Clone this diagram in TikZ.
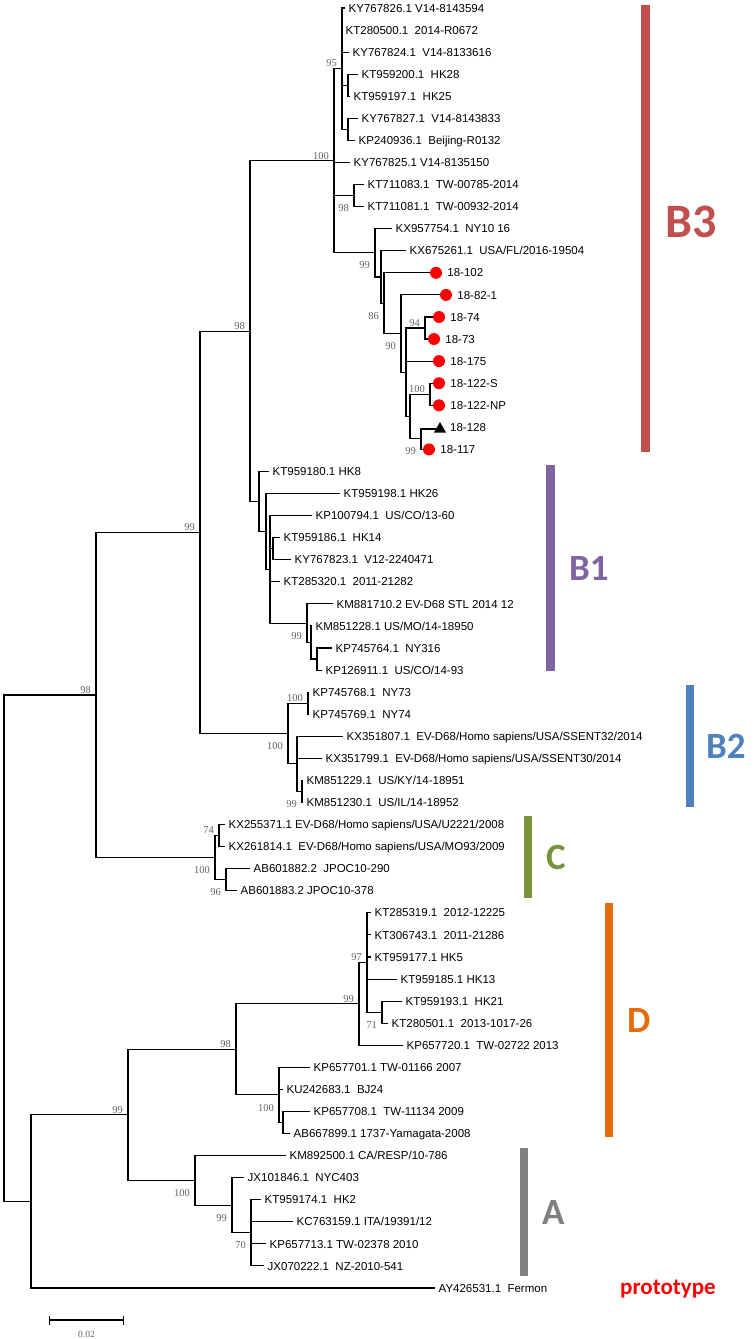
\documentclass[tikz,border=0pt]{standalone}
\usepackage{fontspec}
\setmainfont{Liberation Sans}
\newfontfamily\bootfont{Liberation Serif}
\newfontfamily\cladefont{Carlito}
\usetikzlibrary{positioning,shapes.geometric,arrows.meta}
\definecolor{colBthree}{HTML}{C0504D}
\definecolor{colBone}{HTML}{8064A2}
\definecolor{colBtwo}{HTML}{4F81BD}
\definecolor{colC}{HTML}{77933C}
\definecolor{colD}{HTML}{E46C0A}
\definecolor{colA}{HTML}{7F7F7F}

\begin{document}
\begin{tikzpicture}[x=1pt,y=-1pt,
  branch/.style={line width=1.1pt},
  leaf/.style={anchor=west,inner xsep=3.5pt,inner ysep=0pt,text height=8.2pt,text depth=0pt,font=\fontsize{11.5}{13}\selectfont},
  red dot/.style={circle,fill=red,inner sep=0pt,minimum size=12pt},
  black tri/.style={regular polygon,regular polygon sides=3,fill=black,inner sep=0pt,minimum size=14pt},
  boot/.style={inner sep=0pt,text=black!62,font=\bootfont\fontsize{10.5}{11}\selectfont},
  boot up/.style={boot,above left=1.5pt and 5pt of #1},
  boot down/.style={boot,below left=9pt and 5pt of #1},
  clade/.style={anchor=west,inner sep=0pt,font=\cladefont\bfseries\fontsize{37}{40}\selectfont}]
  \useasboundingbox (0,0) rectangle (754,1339);

  % inner nodes of the tree
  \coordinate (root) at (4,948);
  \coordinate (nIng) at (96,695);
  \coordinate (nB) at (200,532.4);
  \coordinate (nB13) at (250,331.2);
  \coordinate (nB3) at (334,160.8);
  \coordinate (n95) at (342,68.7);
  \coordinate (nHK) at (348,85.2);
  \coordinate (nBJ) at (348,129.4);
  \coordinate (nTW) at (354,195.6);
  \coordinate (n99i) at (375,252.8);
  \coordinate (nFL) at (381,277);
  \coordinate (n86) at (384,303.2);
  \coordinate (n90) at (401,333.5);
  \coordinate (nX) at (406,372.2);
  \coordinate (n94) at (425,328);
  \coordinate (nY) at (410,416.3);
  \coordinate (nS) at (430,394.2);
  \coordinate (nT) at (421,438.4);
  \coordinate (nB1) at (259,501.5);
  \coordinate (nB1b) at (266,531.5);
  \coordinate (nB1c) at (270,569.4);
  \coordinate (nHK14) at (273,548.7);
  \coordinate (nSTL) at (307,623.2);
  \coordinate (nMO) at (311,642.5);
  \coordinate (nCO) at (317,659);
  \coordinate (nB2) at (288,733.5);
  \coordinate (nNY) at (308,703.2);
  \coordinate (nSS) at (297,763.9);
  \coordinate (nKY) at (302,791.5);
  \coordinate (nC) at (215,857.7);
  \coordinate (n74) at (219,835.6);
  \coordinate (nJP) at (226,879.7);
  \coordinate (nLow) at (31,1201.5);
  \coordinate (nDA) at (128,1114.9);
  \coordinate (nD) at (236,1049.4);
  \coordinate (nD1) at (359,1003.9);
  \coordinate (n97) at (367,962.5);
  \coordinate (n71) at (382,1012.2);
  \coordinate (nD2) at (279,1094.9);
  \coordinate (nTWb) at (283,1122.5);
  \coordinate (nA) at (195,1180.4);
  \coordinate (nA1) at (232,1205.3);
  \coordinate (n70) at (251,1232.8);

  % leaves
  \node[leaf] (l1) at (345,8) {KY767826.1 V14-8143594};
  \node[leaf] (l2) at (342,30.1) {KT280500.1~~2014-R0672};
  \node[leaf] (l3) at (349,52.1) {KY767824.1~~V14-8133616};
  \node[leaf] (l4) at (358,74.2) {KT959200.1~~HK28};
  \node[leaf] (l5) at (350,96.3) {KT959197.1~~HK25};
  \node[leaf] (l6) at (358,118.4) {KY767827.1~~V14-8143833};
  \node[leaf] (l7) at (355,140.4) {KP240936.1~~Beijing-R0132};
  \node[leaf] (l8) at (350,162.5) {KY767825.1 V14-8135150};
  \node[leaf] (l9) at (364,184.6) {KT711083.1~~TW-00785-2014};
  \node[leaf] (l10) at (364,206.6) {KT711081.1~~TW-00932-2014};
  \node[leaf] (l11) at (392,228.7) {KX957754.1~~NY10 16};
  \node[leaf] (l12) at (406,250.8) {KX675261.1~~USA/FL/2016-19504};
  \node[red dot] (d13) at (436,272.8) {};
  \node[leaf,right=1.5pt of d13] (l13) {18-102};
  \node[red dot] (d14) at (446,294.9) {};
  \node[leaf,right=1.5pt of d14] (l14) {18-82-1};
  \node[red dot] (d15) at (439,317) {};
  \node[leaf,right=1.5pt of d15] (l15) {18-74};
  \node[red dot] (d16) at (434,339) {};
  \node[leaf,right=1.5pt of d16] (l16) {18-73};
  \node[red dot] (d17) at (439,361.1) {};
  \node[leaf,right=1.5pt of d17] (l17) {18-175};
  \node[red dot] (d18) at (439,383.2) {};
  \node[leaf,right=1.5pt of d18] (l18) {18-122-S};
  \node[red dot] (d19) at (439,405.3) {};
  \node[leaf,right=1.5pt of d19] (l19) {18-122-NP};
  \node[black tri] (t20) at (440,429) {};
  \node[leaf] (l20) at (446.5,427.3) {18-128};
  \node[red dot] (d21) at (429,449.4) {};
  \node[leaf,right=1.5pt of d21] (l21) {18-117};
  \node[leaf] (l22) at (269,471.5) {KT959180.1 HK8};
  \node[leaf] (l23) at (340,493.5) {KT959198.1 HK26};
  \node[leaf] (l24) at (312,515.6) {KP100794.1~~US/CO/13-60};
  \node[leaf] (l25) at (280,537.7) {KT959186.1~~HK14};
  \node[leaf] (l26) at (291,559.7) {KY767823.1~~V12-2240471};
  \node[leaf] (l27) at (280,581.8) {KT285320.1~~2011-21282};
  \node[leaf] (l28) at (333,603.9) {KM881710.2 EV-D68 STL 2014 12};
  \node[leaf] (l29) at (312,625.9) {KM851228.1 US/MO/14-18950};
  \node[leaf] (l30) at (332,648) {KP745764.1~~NY316};
  \node[leaf] (l31) at (322,670.1) {KP126911.1~~US/CO/14-93};
  \node[leaf] (l32) at (309,692.2) {KP745768.1~~NY73};
  \node[leaf] (l33) at (309,714.2) {KP745769.1~~NY74};
  \node[leaf] (l34) at (343,736.3) {KX351807.1~~EV-D68/Homo sapiens/USA/SSENT32/2014};
  \node[leaf] (l35) at (322,758.4) {KX351799.1~~EV-D68/Homo sapiens/USA/SSENT30/2014};
  \node[leaf] (l36) at (303,780.4) {KM851229.1~~US/KY/14-18951};
  \node[leaf] (l37) at (303,802.5) {KM851230.1~~US/IL/14-18952};
  \node[leaf] (l38) at (225,824.6) {KX255371.1 EV-D68/Homo sapiens/USA/U2221/2008};
  \node[leaf] (l39) at (225,846.6) {KX261814.1~~EV-D68/Homo sapiens/USA/MO93/2009};
  \node[leaf] (l40) at (250,868.7) {AB601882.2~~JPOC10-290};
  \node[leaf] (l41) at (237,890.8) {AB601883.2 JPOC10-378};
  \node[leaf] (l42) at (371,912.8) {KT285319.1~~2012-12225};
  \node[leaf] (l43) at (371,934.9) {KT306743.1~~2011-21286};
  \node[leaf] (l44) at (371,957) {KT959177.1 HK5};
  \node[leaf] (l45) at (397,979.1) {KT959185.1 HK13};
  \node[leaf] (l46) at (402,1001.1) {KT959193.1~~HK21};
  \node[leaf] (l47) at (388,1023.2) {KT280501.1~~2013-1017-26};
  \node[leaf] (l48) at (403,1045.3) {KP657720.1~~TW-02722 2013};
  \node[leaf] (l49) at (310,1067.3) {KP657701.1 TW-01166 2007};
  \node[leaf] (l50) at (283,1089.4) {KU242683.1~~BJ24};
  \node[leaf] (l51) at (310,1111.5) {KP657708.1~~TW-11134 2009};
  \node[leaf] (l52) at (290,1133.5) {AB667899.1 1737-Yamagata-2008};
  \node[leaf] (l53) at (286,1155.6) {KM892500.1 CA/RESP/10-786};
  \node[leaf] (l54) at (244,1177.7) {JX101846.1~~NYC403};
  \node[leaf] (l55) at (261,1199.7) {KT959174.1~~HK2};
  \node[leaf] (l56) at (293,1221.8) {KC763159.1 ITA/19391/12};
  \node[leaf] (l57) at (266,1243.9) {KP657713.1 TW-02378 2010};
  \node[leaf] (l58) at (264,1265.9) {JX070222.1~~NZ-2010-541};
  \node[leaf] (l59) at (435,1288) {AY426531.1~~Fermon};

  % branches
  \draw[branch] (root) |- (nIng) (root) |- (nLow)
    (nIng) |- (nB) (nIng) |- (nC)
    (nB) |- (nB13) (nB) |- (nB2)
    (nB13) |- (nB3) (nB13) |- (nB1);
  \draw[branch] (nB3) |- (n95) (nB3) |- (l8.west) (nB3) |- (nTW) (nB3) |- (n99i)
    (n95) |- (l1.west) (n95) |- (l2.west) (n95) |- (l3.west) (n95) |- (nHK) (n95) |- (nBJ)
    (nHK) |- (l4.west) (nHK) |- (l5.west)
    (nBJ) |- (l6.west) (nBJ) |- (l7.west)
    (nTW) |- (l9.west) (nTW) |- (l10.west)
    (n99i) |- (l11.west) (n99i) |- (nFL)
    (nFL) |- (l12.west) (nFL) |- (n86)
    (n86) |- (d13.west) (n86) |- (n90)
    (n90) |- (d14.west) (n90) |- (nX)
    (nX) |- (n94) (nX) |- (d17.west) (nX) |- (nY)
    (n94) |- (d15.west) (n94) |- (d16.west)
    (nY) |- (nS) (nY) |- (nT)
    (nS) |- (d18.west) (nS) |- (d19.west)
    (nT) |- (t20.west) (nT) |- (d21.west);
  \draw[branch] (nB1) |- (l22.west) (nB1) |- (nB1b)
    (nB1b) |- (l23.west) (nB1b) |- (nB1c)
    (nB1c) |- (l24.west) (nB1c) |- (nHK14) (nB1c) |- (l27.west) (nB1c) |- (nSTL)
    (nHK14) |- (l25.west) (nHK14) |- (l26.west)
    (nSTL) |- (l28.west) (nSTL) |- (nMO)
    (nMO) |- (l29.west) (nMO) |- (nCO)
    (nCO) |- (l30.west) (nCO) |- (l31.west);
  \draw[branch] (nB2) |- (nNY) (nB2) |- (nSS)
    (nNY) |- (l32.west) (nNY) |- (l33.west)
    (nSS) |- (l34.west) (nSS) |- (l35.west) (nSS) |- (nKY)
    (nKY) |- (l36.west) (nKY) |- (l37.west);
  \draw[branch] (nC) |- (n74) (nC) |- (nJP)
    (n74) |- (l38.west) (n74) |- (l39.west)
    (nJP) |- (l40.west) (nJP) |- (l41.west);
  \draw[branch] (nLow) |- (nDA) (nLow) |- (l59.west)
    (nDA) |- (nD) (nDA) |- (nA)
    (nD) |- (nD1) (nD) |- (nD2)
    (nD1) |- (n97) (nD1) |- (l48.west)
    (n97) |- (l42.west) (n97) |- (l43.west) (n97) |- (l44.west) (n97) |- (l45.west) (n97) |- (n71)
    (n71) |- (l46.west) (n71) |- (l47.west)
    (nD2) |- (l49.west) (nD2) |- (l50.west) (nD2) |- (nTWb)
    (nTWb) |- (l51.west) (nTWb) |- (l52.west)
    (nA) |- (l53.west) (nA) |- (nA1)
    (nA1) |- (l54.west) (nA1) |- (n70)
    (n70) |- (l55.west) (n70) |- (l56.west) (n70) |- (l57.west) (n70) |- (l58.west);

  % bootstrap values
  \node[boot up=nB3] (bB3) {100};
  \node[boot up=n95] (b95) {95};
  \node[boot down=nTW] (bTW) {98};
  \node[boot down=n99i] (b99i) {99};
  \node[boot down=n86] (b86) {86};
  \node[boot down=n90] (b90) {90};
  \node[boot up=n94] (b94) {94};
  \node[boot up=nS] (bS) {100};
  \node[boot down=nT] (bT) {99};
  \node[boot up=nB13] (bB13) {98};
  \node[boot up=nB] (bB) {99};
  \node[boot up=nIng] (bIng) {98};
  \node[boot down=nSTL] (bSTL) {99};
  \node[boot down=nB2] (bB2) {100};
  \node[boot up=nNY] (bNY) {100};
  \node[boot down=nKY] (bKY) {99};
  \node[boot down=nC] (bC) {100};
  \node[boot up=n74] (b74) {74};
  \node[boot down=nJP] (bJP) {96};
  \node[boot up=nD] (bD) {98};
  \node[boot up=nD1] (bD1) {99};
  \node[boot up=n97] (b97) {97};
  \node[boot down=n71] (b71) {71};
  \node[boot down=nD2] (bD2) {100};
  \node[boot up=nDA] (bDA) {99};
  \node[boot down=nA] (bA) {100};
  \node[boot down=nA1] (bA1) {99};
  \node[boot down=n70] (b70) {70};

  % scale bar
  \coordinate (sb0) at (49,1320);
  \coordinate (sb1) at (124,1320);
  \draw[branch,{Bar[width=9pt]}-{Bar[width=9pt]}] (sb0) -- (sb1);
  \node[boot,font=\bootfont\fontsize{9.5}{10}\selectfont] (sbtext) at (86.5,1334) {0.02};

  % clade bars and names
  \fill[colBthree] (641,5) rectangle (650,452);
  \fill[colBone] (546,465) rectangle (555,671);
  \fill[colBtwo] (686,685) rectangle (694,807);
  \fill[colC] (524,816) rectangle (532,898);
  \fill[colD] (605,903) rectangle (613,1137);
  \fill[colA] (520,1148) rectangle (528,1276);
  \node[clade,text=colBthree,font=\cladefont\bfseries\fontsize{48}{50}\selectfont] (labB3) at (665,222) {B3};
  \node[clade,text=colBone] (labB1) at (569,568) {B1};
  \node[clade,text=colBtwo] (labB2) at (706,746) {B2};
  \node[clade,text=colC] (labC) at (546,857) {C};
  \node[clade,text=colD] (labD) at (627,1020) {D};
  \node[clade,text=colA] (labA) at (542,1212) {A};
  \node[anchor=base west,inner sep=0pt,text=red,font=\cladefont\bfseries\fontsize{23}{25}\selectfont] (proto) at (620,1294) {prototype};
\end{tikzpicture}
\end{document}
